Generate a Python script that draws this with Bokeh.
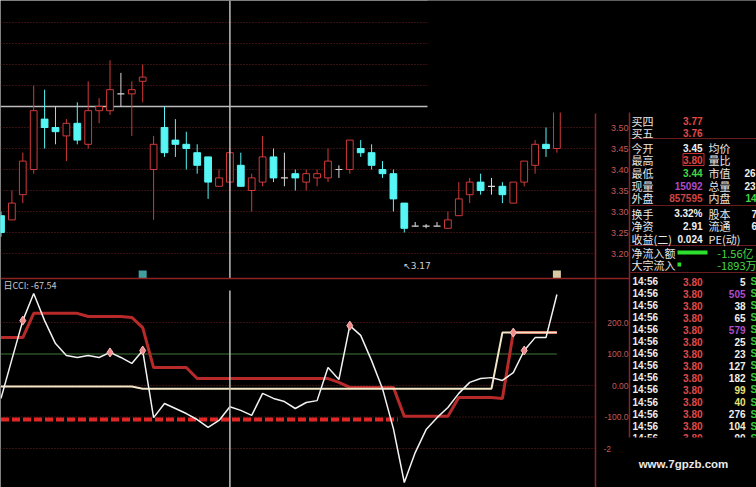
from bokeh.plotting import figure
from bokeh.models import Range1d, ColumnDataSource, Grid
from bokeh.core.properties import value
from bokeh.embed import file_html
from bokeh.resources import INLINE

# ---------------- daily bars ----------------
opens = [3.29, 3.28, 3.34, 3.40, 3.52, 3.50, 3.48, 3.51, 3.46, 3.54,
         3.54, 3.58, 3.58, 3.61, 3.40, 3.50, 3.47, 3.46, 3.44, 3.43,
         3.36, 3.37, 3.41, 3.35, 3.37, 3.43, 3.38, 3.39, 3.37, 3.38,
         3.38, 3.40, 3.40, 3.45, 3.44, 3.40, 3.39, 3.32, 3.265, 3.265,
         3.265, 3.26, 3.29, 3.34, 3.37, 3.36, 3.36, 3.32, 3.37, 3.41,
         3.46, 3.45]
highs = [3.30, 3.35, 3.44, 3.60, 3.59, 3.55, 3.52, 3.56, 3.61, 3.57,
         3.66, 3.63, 3.61, 3.65, 3.48, 3.55, 3.52, 3.49, 3.46, 3.43,
         3.40, 3.45, 3.44, 3.39, 3.48, 3.45, 3.44, 3.40, 3.40, 3.40,
         3.45, 3.41, 3.47, 3.47, 3.46, 3.42, 3.40, 3.32, 3.275, 3.27,
         3.275, 3.30, 3.37, 3.38, 3.39, 3.38, 3.37, 3.37, 3.42, 3.47,
         3.50, 3.80]
lows = [3.24, 3.28, 3.32, 3.39, 3.45, 3.46, 3.42, 3.46, 3.45, 3.51,
        3.53, 3.55, 3.48, 3.56, 3.28, 3.43, 3.43, 3.40, 3.39, 3.33,
        3.36, 3.35, 3.36, 3.30, 3.36, 3.37, 3.36, 3.35, 3.35, 3.36,
        3.37, 3.38, 3.39, 3.43, 3.40, 3.38, 3.30, 3.25, 3.265, 3.26,
        3.265, 3.26, 3.29, 3.32, 3.34, 3.34, 3.32, 3.32, 3.36, 3.39,
        3.43, 3.44]
closes = [3.25, 3.32, 3.42, 3.54, 3.50, 3.49, 3.51, 3.47, 3.54, 3.55,
          3.59, 3.58, 3.59, 3.62, 3.46, 3.44, 3.46, 3.45, 3.41, 3.37,
          3.38, 3.44, 3.36, 3.38, 3.43, 3.38, 3.38, 3.38, 3.39, 3.39,
          3.42, 3.40, 3.47, 3.44, 3.41, 3.39, 3.33, 3.26, 3.265, 3.265,
          3.265, 3.28, 3.33, 3.37, 3.35, 3.36, 3.34, 3.37, 3.42, 3.46,
          3.45, 3.80]

price_ticks = [3.50, 3.45, 3.40, 3.35, 3.30, 3.25, 3.20]
price_grid = [3.20, 3.25, 3.30, 3.35, 3.40, 3.45, 3.50, 3.60, 3.65, 3.70, 3.75]
cursor_idx = 21
cursor_price = 3.55
period_low_idx = 37
period_low = 3.17
news_idx = [13, 51]

# ---------------- CCI panel ----------------
cci = [-41, 83, 206, 292, 206, 133, 95, 89, 95, 89,
       105, 89, 70, 111, -102, -57, -73, -89, -108, -133,
       -111, -67.54, -79, -95, -25, -41, -51, -73, -54, -48,
       57, 19, 190, 159, 79, -10, -137, -308, -213, -140,
       -102, -70, -25, 10, 22, 25, 16, 41, 111, 152,
       152, 289]
upper = [152, 152, 152, 229, 229, 229, 229, 229, 219, 219,
         219, 219, 216, 184, 57, 57, 57, 57, 22, 22,
         22, 22, 22, 22, 22, 22, 22, 22, 22, 22,
         22, 10, -6, -6, -6, -6, -6, -98, -98, -98,
         -98, -98, -38, -38, -38, -38, -41, 168, 168, 168,
         168, 168]
middle = [-3] * 13 + [-10] * 33 + [168] * 6
floor_level = -108
floor_span = [0, 36]
signal_idx = [2, 10, 13, 32, 47, 48]
cci_ticks = [200, 100, 0, -100]
cci_tick_labels = ["200.0", "100.0", "0.00", "-100.0"]

# ---------------- quote table ----------------
quote_labels = ["买四", "买五", "今开", "最高", "最低", "现量", "外盘",
                "换手", "净资", "收益(二)"]
quote_values = ["3.77", "3.76", "3.45", "3.80", "3.44", "15092", "857595",
                "3.32%", "2.91", "0.024"]
side_labels = ["均价", "量比", "市值", "总量", "内盘", "股本", "流通", "PE(动)"]
side_values = ["", "", "26", "23", "14", "7", "6", ""]
flow_labels = ["净流入额", "大宗流入"]
flow_values = [-1.56, -0.1893]          # 亿
flow_texts = ["-1.56亿", "-1893万"]
trade_times = ["14:56"] * 14
trade_prices = ["3.80"] * 14
trade_vols = [5, 505, 38, 65, 579, 25, 23, 127, 182, 99, 40, 276, 104, 90]

# ---------------- geometry ----------------
W, H = 756, 487
BAR_PX = 10.9
X0 = -0.5 / BAR_PX
PRICE_REF, PRICE_REF_Y, PRICE_PX = 3.50, 127.0, 420.0
CCI_ZERO_Y, CCI_PX = 385.0, 0.315

p = figure(width=W, height=H, output_backend="svg", toolbar_location=None,
           x_range=Range1d(X0, X0 + W / BAR_PX),
           y_range=Range1d(PRICE_REF - (H - PRICE_REF_Y) / PRICE_PX,
                           PRICE_REF + PRICE_REF_Y / PRICE_PX),
           x_axis_location=None, y_axis_location=None, min_border=0,
           background_fill_color="#000000", border_fill_color="#000000",
           outline_line_color=None)
for r in list(p.center):
    if isinstance(r, Grid):
        r.visible = False
        r.grid_line_color = None
p.extra_x_ranges = {"px": Range1d(0, W)}
p.extra_y_ranges = {"py": Range1d(H, 0),
                    "cci": Range1d((CCI_ZERO_Y - H) / CCI_PX, CCI_ZERO_Y / CCI_PX)}

GRID = "#6e2222"
FRAME = "#8c2424"
UP = "#d03a3a"
DOWN = "#56f6f6"
DOJI = "#d8d8d8"
CJK = "Noto Sans CJK SC"
NUM = "Liberation Sans"


def texts(xs, ys, labels, colors, size, font, align="left", bold=False,
          xr="px", yr="py"):
    src = ColumnDataSource(dict(x=xs, y=ys, t=labels, c=colors))
    p.text(x="x", y="y", text="t", text_color="c", source=src,
           text_font=value(font), text_font_size=size, text_align=align,
           text_baseline="middle", text_font_style="bold" if bold else "normal",
           x_range_name=xr, y_range_name=yr)


# price grid
p.segment(x0=[0] * len(price_grid), x1=[595] * len(price_grid),
          y0=price_grid, y1=price_grid, line_color=GRID, line_width=1,
          line_dash="1 2", x_range_name="px")
# crosshair (horizontal)
p.segment(x0=[0], x1=[595], y0=[cursor_price], y1=[cursor_price],
          line_color="#bdbdbd", line_width=1.5, x_range_name="px")

# CCI grid
grid_levels = [200, 0, -100, -200]
p.segment(x0=[0] * 4, x1=[595] * 4, y0=grid_levels, y1=grid_levels,
          line_color=GRID, line_width=1, line_dash="1 2",
          x_range_name="px", y_range_name="cci")
p.line(x=[0, len(cci) - 1], y=[100, 100], line_color="#3f7a3a", line_width=1,
       y_range_name="cci")

# candles
idx = list(range(len(closes)))
wick_col = []
for o, c in zip(opens, closes):
    wick_col.append(UP if c > o else (DOWN if c < o else DOJI))
p.segment(x0=idx, x1=idx, y0=lows, y1=highs, line_color=wick_col, line_width=1)

up_i = [i for i in idx if closes[i] > opens[i]]
dn_i = [i for i in idx if closes[i] < opens[i]]
dj_i = [i for i in idx if closes[i] == opens[i]]
p.vbar(x=up_i, width=0.62, top=[closes[i] for i in up_i],
       bottom=[opens[i] for i in up_i], fill_color="#000000",
       line_color=UP, line_width=1)
p.vbar(x=dn_i, width=0.62, top=[opens[i] for i in dn_i],
       bottom=[closes[i] for i in dn_i], fill_color=DOWN,
       line_color=DOWN, line_width=1)
p.segment(x0=[i - 0.32 for i in dj_i], x1=[i + 0.32 for i in dj_i],
          y0=[opens[i] for i in dj_i], y1=[opens[i] for i in dj_i],
          line_color=DOJI, line_width=1.2)

# period low note
texts([period_low_idx - 0.1], [period_low], ["↖3.17"], ["#d0d0d0"], "9px",
      "DejaVu Sans", xr="default", yr="default")

# news markers under bars
p.scatter(x=news_idx, y=[274] * len(news_idx), marker="square", size=8,
          fill_color=["#3f9e9e", "#d9c9a2"], line_color=None, y_range_name="py")

# CCI lines
p.line(x=idx, y=upper, line_color="#b82a2a", line_width=3, y_range_name="cci")
p.line(x=idx, y=middle, line_color="#f3e6c6", line_width=2, y_range_name="cci")
p.line(x=[floor_span[0], floor_span[1] + 0.4], y=[floor_level, floor_level],
       line_color="#e22626", line_width=4, line_dash="8 3", y_range_name="cci")
p.line(x=idx, y=cci, line_color="#f2f2f2", line_width=1.5, y_range_name="cci")
sig_val = [upper[i] if i == 47 else cci[i] for i in signal_idx]
p.scatter(x=signal_idx, y=sig_val, marker="diamond", size=9,
          fill_color="#f08a8a", line_color="#ffc0c0", line_width=1,
          y_range_name="cci")

# crosshair (vertical)
p.segment(x0=[cursor_idx, cursor_idx], x1=[cursor_idx, cursor_idx],
          y0=[0, 290], y1=[278, H], line_color="#bdbdbd", line_width=1.5,
          y_range_name="py")

# black panel over the upper right
p.quad(left=[427], right=[W], top=[0], bottom=[112], fill_color="#000000",
       line_color=None, x_range_name="px", y_range_name="py")

# frames
p.segment(x0=[0, 595, 629], x1=[629, 595, 629], y0=[278, 113, 112],
          y1=[278, H, 437], line_color=FRAME, line_width=1.5,
          x_range_name="px", y_range_name="py")
p.segment(x0=[629, 629, 629, 629], x1=[W] * 4, y0=[138, 205, 245, 272],
          y1=[138, 205, 245, 272], line_color="#6a1c1c", line_width=1,
          x_range_name="px", y_range_name="py")

# axis labels
texts([628] * len(price_ticks), price_ticks, ["%.2f" % v for v in price_ticks],
      ["#c45a5a"] * len(price_ticks), "9px", NUM, align="right", yr="default")
texts([628] * len(cci_ticks), cci_ticks, cci_tick_labels,
      ["#c45a5a"] * len(cci_ticks), "8.5px", NUM, align="right", yr="cci")

# CCI title
texts([3], [285], ["日CCI: %.2f" % cci[cursor_idx]], ["#c8c8c8"], "9px", CJK)

# quote table
row_y = [120, 132, 147, 159, 172, 185, 197, 213, 225, 238]
texts([631] * len(quote_labels), row_y, quote_labels,
      ["#e6e6e6"] * len(quote_labels), "11px", CJK)
qcol = ["#e04a4a", "#e04a4a", "#f0f0f0", "#e04a4a", "#44d844", "#b04cc8",
        "#d04444", "#f0f0f0", "#f0f0f0", "#f0f0f0"]
texts([702] * len(quote_values), row_y, quote_values, qcol, "10px", NUM,
      align="right", bold=True)
p.rect(x=[693], y=[159], width=21, height=12, fill_color=None,
       line_color="#c83030", line_width=1, x_range_name="px", y_range_name="py")
texts([708] * len(side_labels), row_y[2:], side_labels,
      ["#e6e6e6"] * len(side_labels), "11px", CJK)
scol = ["#f0f0f0", "#f0f0f0", "#f0f0f0", "#f0f0f0", "#44d844", "#f0f0f0",
        "#f0f0f0", "#f0f0f0"]
texts([744, 744, 744, 744, 745, 751, 751, 751], row_y[2:], side_values, scol,
      "10px", NUM, bold=True)

# money flow
flow_y = [252, 264]
texts([631, 631], flow_y, flow_labels, ["#e6e6e6"] * 2, "11px", CJK)
bar_len = [abs(v) / abs(flow_values[0]) * 30 for v in flow_values]
p.quad(left=[677, 677], right=[677 + b for b in bar_len],
       top=[y - 2 for y in flow_y], bottom=[y + 2 for y in flow_y],
       fill_color="#2ee02e", line_color=None, x_range_name="px", y_range_name="py")
texts([753, 756], flow_y, flow_texts, ["#44d844"] * 2, "11px", CJK,
      align="right")

# trade ticks
tr_y = [281 + 12.05 * k for k in range(len(trade_times))]
vcol = ["#f0f0f0", "#b04cc8", "#f0f0f0", "#f0f0f0", "#b04cc8", "#f0f0f0",
        "#f0f0f0", "#f0f0f0", "#f0f0f0", "#e6e27a", "#e6e27a", "#f0f0f0",
        "#f0f0d0", "#f0f0f0"]
texts([632] * len(tr_y), tr_y, trade_times, ["#ececec"] * len(tr_y), "10px",
      NUM, bold=True)
texts([702] * len(tr_y), tr_y, trade_prices, ["#e04a4a"] * len(tr_y), "10px",
      NUM, align="right", bold=True)
texts([745] * len(tr_y), tr_y, [str(v) for v in trade_vols], vcol, "10px",
      NUM, align="right", bold=True)
texts([750] * len(tr_y), tr_y, ["S"] * len(tr_y), ["#3cc83c"] * len(tr_y),
      "10px", NUM, bold=True)

# cut the list at its lower edge
p.quad(left=[629.8], right=[W], top=[437], bottom=[H], fill_color="#000000",
       line_color=None, x_range_name="px", y_range_name="py")
texts([603], [-200], ["-2"], ["#c45a5a"], "8.5px", NUM, yr="cci")
texts([683], [463], ["www.7gpzb.com"], ["#e8e8e8"], "11.5px", NUM,
      align="center", bold=True)

open("out.html", "w").write(file_html(p, INLINE))
